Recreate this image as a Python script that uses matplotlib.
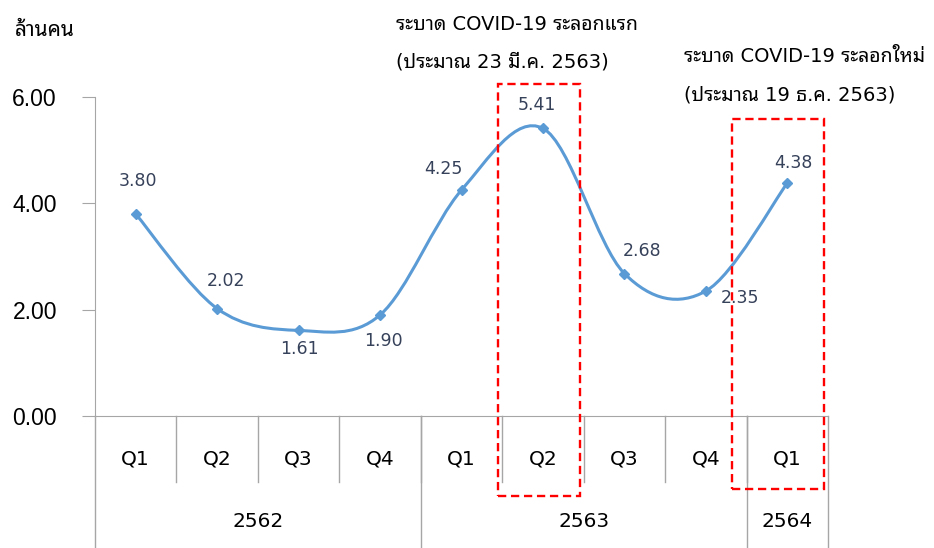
import matplotlib
matplotlib.use('Agg')
import matplotlib.pyplot as plt
from matplotlib.path import Path
from matplotlib.patches import PathPatch, Rectangle
import matplotlib.transforms as mtransforms
import numpy as np

quarters = ['Q1', 'Q2', 'Q3', 'Q4', 'Q1', 'Q2', 'Q3', 'Q4', 'Q1']
years = ['2562', '2563', '2564']
year_quarters = [4, 4, 1]
values = [3.80, 2.02, 1.61, 1.90, 4.25, 5.41, 2.68, 2.35, 4.38]
yticks = [0, 2, 4, 6]
unit_label = 'ล้านคน'
note1 = ['ระบาด COVID-19 ระลอกแรก', '(ประมาณ 23 มี.ค. 2563)']
note2 = ['ระบาด COVID-19 ระลอกใหม่', '(ประมาณ 19 ธ.ค. 2563)']

thai = ['DejaVu Sans', 'Noto Sans Thai Looped', 'IBM Plex Sans Thai Looped', 'Sarabun']
plt.rcParams['font.family'] = ['DejaVu Sans']

line_c = '#5B9BD5'
lab_c = '#36415A'
grid_c = '#A6A6A6'

fig = plt.figure(figsize=(9.34, 5.48), dpi=100)
ax = fig.add_axes([95/934, 1-416/548, 733/934, 319/548])
n = len(values)
x = np.arange(n)
ax.set_xlim(-0.5, n-0.5)
ax.set_ylim(0, 6)

# smoothed line like Excel (Catmull-Rom drawn as bezier)
pts = np.column_stack([x, values])
verts = [pts[0]]
codes = [Path.MOVETO]
for i in range(n-1):
    p0 = pts[i-1] if i > 0 else pts[i]
    p1 = pts[i]
    p2 = pts[i+1]
    p3 = pts[i+2] if i+2 < n else pts[i+1]
    verts += [p1 + (p2-p0)/6, p2 - (p3-p1)/6, p2]
    codes += [Path.CURVE4]*3
ax.add_patch(PathPatch(Path(verts, codes), fill=False, edgecolor=line_c, lw=2.2, zorder=3))
ax.plot(x, values, ls='none', marker='D', ms=5.5, color=line_c, zorder=4)

# label offsets in pixels (x, y up)
offsets = [(2, 33), (9, 28), (1, -19), (3, -26), (-18, 21), (-6, 23), (18, 23), (34, -7), (6, 20)]
for xi, v, off in zip(x, values, offsets):
    ax.annotate(f'{v:.2f}', (xi, v), xytext=off, textcoords='offset pixels',
                ha='center', va='center', fontsize=12.5, color=lab_c)

ax.set_yticks(yticks)
ax.set_yticklabels([f'{t:.2f}' for t in yticks], fontsize=16.5, family='Liberation Sans')
ax.tick_params(axis='y', length=9.4, color=grid_c, pad=18)
ax.set_xticks([])
for s in ['top', 'right']:
    ax.spines[s].set_visible(False)
for s in ['left', 'bottom']:
    ax.spines[s].set_color(grid_c)

# category axis table under the plot
tr = mtransforms.blended_transform_factory(ax.transData, ax.transAxes)
q_bot = -0.207
y_bot = -0.414
for i, q in enumerate(quarters):
    ax.text(i, -0.135, q, transform=tr, ha='center', va='center', fontsize=14.5)
for i in range(1, n):
    ax.plot([i-0.5, i-0.5], [0, q_bot], transform=tr, color=grid_c, lw=1, clip_on=False)
start = 0
edges = [-0.5]
for yr, k in zip(years, year_quarters):
    ax.text(start + (k-1)/2, -0.332, yr, transform=tr, ha='center', va='center', fontsize=14.5)
    start += k
    edges.append(start-0.5)
for e in edges:
    ax.plot([e, e], [0, y_bot], transform=tr, color=grid_c, lw=1, clip_on=False)

# red dashed boxes (pixel frame)
boxes = [(498, 84, 580, 496), (732, 119, 824, 489)]
for (x0, y0, x1, y1) in boxes:
    fig.patches.append(Rectangle((x0/934, 1-y1/548), (x1-x0)/934, (y1-y0)/548,
                                 transform=fig.transFigure, fill=False,
                                 edgecolor='#FF0000', ls=(0, (3.5, 2)), lw=1.7, zorder=5))

fig.text(15/934, 1-30/548, unit_label, family=thai, fontsize=15, va='center')
fig.text(396/934, 1-25/548, note1[0], family=thai, fontsize=14, va='center')
fig.text(396/934, 1-62/548, note1[1], family=thai, fontsize=14, va='center')
fig.text(684/934, 1-57/548, note2[0], family=thai, fontsize=14, va='center')
fig.text(684/934, 1-95/548, note2[1], family=thai, fontsize=14, va='center')

fig.savefig('out.png', dpi=100)
